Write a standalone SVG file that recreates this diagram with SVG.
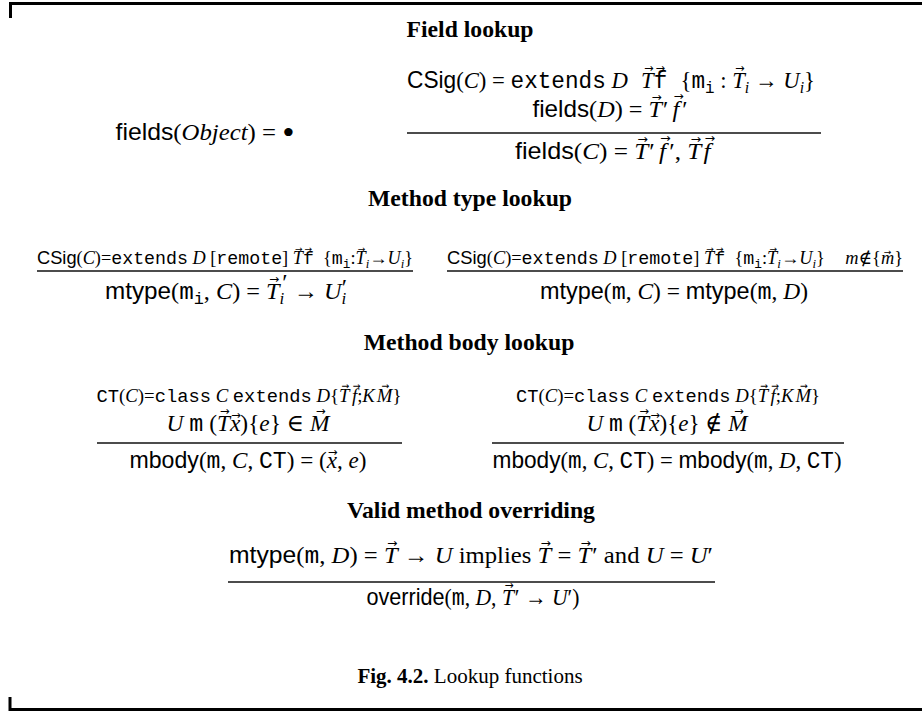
<svg xmlns="http://www.w3.org/2000/svg" width="922" height="713" viewBox="0 0 922 713">
<style>
.h{font-family:"Liberation Serif",serif;font-weight:bold;font-size:23.7px;fill:#000}
.m{font-family:"Liberation Serif","DejaVu Serif",serif;font-size:24px;fill:#000}
.p{font-size:18px}
.q{font-size:19px}
.sf{font-family:"Liberation Sans","DejaVu Sans",sans-serif}
.tt{font-family:"Liberation Mono","DejaVu Sans Mono",monospace}
.i{font-style:italic}
.sub{font-size:70%}
.v{font-family:"DejaVu Sans",sans-serif;font-style:normal;font-size:12px}
.vs{font-size:9px}
.vq{font-size:9.5px}
.rule{stroke:#111;stroke-width:1.4;fill:none}
.frame{stroke:#000;stroke-width:3;fill:none}
.cap{font-family:"Liberation Serif",serif;font-size:21px;fill:#000}
</style>
<rect width="922" height="713" fill="#fff"/>
<path class="frame" d="M10.5,18 V3.5 H922"/>
<path class="frame" d="M10,697 V709.5 H922"/>

<g id="field-lookup">
<text class="h" x="470" y="37" text-anchor="middle">Field lookup</text>
<text class="m" x="205" y="140" text-anchor="middle" textLength="179" lengthAdjust="spacingAndGlyphs"><tspan class="sf">fields</tspan>(<tspan class="i">Object</tspan>) = <tspan font-size="34" dy="4">•</tspan></text>
<text class="m" x="611" y="88" text-anchor="middle" textLength="408" lengthAdjust="spacingAndGlyphs"><tspan class="sf">CSig</tspan>(<tspan class="i">C</tspan>) = <tspan class="tt">extends</tspan> <tspan class="i">D</tspan><tspan class="v" dx="17" dy="-16">→</tspan><tspan class="i" dx="-13.06" dy="16">T</tspan><tspan class="v" dx="2" dy="-16">→</tspan><tspan class="tt" dx="-12.06" dy="16">f</tspan><tspan dx="14">{</tspan><tspan class="tt">m</tspan><tspan class="tt sub" dy="5">i</tspan><tspan dy="-5"> : </tspan><tspan class="v" dx="3" dy="-16">→</tspan><tspan class="i" dx="-13.06" dy="16">T</tspan><tspan class="i sub" dy="5">i</tspan><tspan dy="-5"> → </tspan><tspan class="i">U</tspan><tspan class="i sub" dy="5">i</tspan><tspan dy="-5">}</tspan></text>
<text class="m" x="610" y="117" text-anchor="middle" textLength="155" lengthAdjust="spacingAndGlyphs"><tspan class="sf">fields</tspan>(<tspan class="i">D</tspan>) = <tspan class="v" dx="3" dy="-16">→</tspan><tspan class="i" dx="-13.06" dy="16">T</tspan><tspan dx="1">′</tspan><tspan class="v" dx="5" dy="-17">→</tspan><tspan class="i" dx="-11.06" dy="17">f</tspan><tspan dx="3">′</tspan></text>
<line class="rule" x1="407" y1="133" x2="821" y2="133"/>
<text class="m" x="615" y="159" text-anchor="middle" textLength="200" lengthAdjust="spacingAndGlyphs"><tspan class="sf">fields</tspan>(<tspan class="i">C</tspan>) = <tspan class="v" dx="3" dy="-16">→</tspan><tspan class="i" dx="-13.06" dy="16">T</tspan><tspan dx="1">′</tspan><tspan class="v" dx="5" dy="-17">→</tspan><tspan class="i" dx="-11.06" dy="17">f</tspan><tspan dx="3">′, </tspan><tspan class="v" dx="3" dy="-16">→</tspan><tspan class="i" dx="-13.06" dy="16">T</tspan><tspan class="v" dx="3" dy="-17">→</tspan><tspan class="i" dx="-11.06" dy="17">f</tspan><tspan dx="4"> </tspan></text>
</g>

<g id="method-type-lookup">
<text class="h" x="470" y="206" text-anchor="middle">Method type lookup</text>
<text class="m p" x="225" y="264" text-anchor="middle" textLength="376" lengthAdjust="spacingAndGlyphs"><tspan class="sf">CSig</tspan>(<tspan class="i">C</tspan>)=<tspan class="tt">extends</tspan> <tspan class="i">D</tspan> [<tspan class="tt">remote</tspan>] <tspan class="v vs" dx="2.3" dy="-12">→</tspan><tspan class="i" dx="-9.84" dy="12">T</tspan><tspan class="v vs" dx="1.6" dy="-12">→</tspan><tspan class="tt" dx="-9.14" dy="12">f</tspan><tspan dx="9">{</tspan><tspan class="tt">m</tspan><tspan class="tt sub" dy="4">i</tspan><tspan dy="-4">:</tspan><tspan class="v vs" dx="2.3" dy="-12">→</tspan><tspan class="i" dx="-9.84" dy="12">T</tspan><tspan class="i sub" dy="4">i</tspan><tspan dy="-4">→</tspan><tspan class="i">U</tspan><tspan class="i sub" dy="4">i</tspan><tspan dy="-4">}</tspan></text>
<line class="rule" x1="37" y1="271" x2="413" y2="271"/>
<text class="m" x="226" y="299" text-anchor="middle" textLength="242" lengthAdjust="spacingAndGlyphs"><tspan class="sf">mtype</tspan>(<tspan class="tt">m</tspan><tspan class="tt sub" dy="5">i</tspan><tspan dy="-5">, </tspan><tspan class="i">C</tspan>) = <tspan class="v" dx="3" dy="-16">→</tspan><tspan class="i" dx="-13.06" dy="16">T</tspan><tspan class="i sub" dy="5">i</tspan><tspan dy="-14" dx="-2">′</tspan><tspan dy="9"> → </tspan><tspan class="i">U</tspan><tspan class="i sub" dy="5">i</tspan><tspan dy="-9" dx="-4.5">′</tspan></text>

<text class="m p" x="675" y="264" text-anchor="middle" textLength="456" lengthAdjust="spacingAndGlyphs"><tspan class="sf">CSig</tspan>(<tspan class="i">C</tspan>)=<tspan class="tt">extends</tspan> <tspan class="i">D</tspan> [<tspan class="tt">remote</tspan>] <tspan class="v vs" dx="2.3" dy="-12">→</tspan><tspan class="i" dx="-9.84" dy="12">T</tspan><tspan class="v vs" dx="1.6" dy="-12">→</tspan><tspan class="tt" dx="-9.14" dy="12">f</tspan><tspan dx="9">{</tspan><tspan class="tt">m</tspan><tspan class="tt sub" dy="4">i</tspan><tspan dy="-4">:</tspan><tspan class="v vs" dx="2.3" dy="-12">→</tspan><tspan class="i" dx="-9.84" dy="12">T</tspan><tspan class="i sub" dy="4">i</tspan><tspan dy="-4">→</tspan><tspan class="i">U</tspan><tspan class="i sub" dy="4">i</tspan><tspan dy="-4">}</tspan><tspan class="i" dx="20">m</tspan>∉{<tspan class="v vs" dx="2.7" dy="-9">→</tspan><tspan class="i" dx="-10.24" dy="9">m</tspan>}</text>
<line class="rule" x1="447" y1="271" x2="903" y2="271"/>
<text class="m" x="674" y="299" text-anchor="middle" textLength="268" lengthAdjust="spacingAndGlyphs"><tspan class="sf">mtype</tspan>(<tspan class="tt">m</tspan>, <tspan class="i">C</tspan>) = <tspan class="sf">mtype</tspan>(<tspan class="tt">m</tspan>, <tspan class="i">D</tspan>)</text>
</g>

<g id="method-body-lookup">
<text class="h" x="469" y="350" text-anchor="middle">Method body lookup</text>
<text class="m q" x="249" y="402" text-anchor="middle" textLength="305" lengthAdjust="spacingAndGlyphs"><tspan class="tt">CT</tspan>(<tspan class="i">C</tspan>)=<tspan class="tt">class</tspan> <tspan class="i">C</tspan> <tspan class="tt">extends</tspan> <tspan class="i">D</tspan>{<tspan class="v vq" dx="2.4" dy="-12.6">→</tspan><tspan class="i" dx="-10.36" dy="12.6">T</tspan><tspan class="v vq" dx="3" dy="-13.5">→</tspan><tspan class="i" dx="-8.46" dy="13.5">f</tspan>;<tspan class="i">K</tspan><tspan class="v vq" dx="6.5" dy="-12.6">→</tspan><tspan class="i" dx="-12.46" dy="12.6">M</tspan>}</text>
<text class="m" x="248" y="431" text-anchor="middle" textLength="163" lengthAdjust="spacingAndGlyphs"><tspan class="i">U</tspan> <tspan class="tt">m</tspan> (<tspan class="v" dx="3" dy="-16">→</tspan><tspan class="i" dx="-13.06" dy="16">T</tspan><tspan class="v" dx="1" dy="-12">→</tspan><tspan class="i" dx="-11.06" dy="12">x</tspan>){<tspan class="i">e</tspan>} ∈ <tspan class="v" dx="6" dy="-16">→</tspan><tspan class="i" dx="-16.06" dy="16">M</tspan></text>
<line class="rule" x1="97" y1="443" x2="402" y2="443"/>
<text class="m" x="248" y="468" text-anchor="middle" textLength="237" lengthAdjust="spacingAndGlyphs"><tspan class="sf">mbody</tspan>(<tspan class="tt">m</tspan>, <tspan class="i">C</tspan>, <tspan class="tt">CT</tspan>) = (<tspan class="v" dx="1" dy="-12">→</tspan><tspan class="i" dx="-11.06" dy="12">x</tspan>, <tspan class="i">e</tspan>)</text>

<text class="m q" x="668" y="402" text-anchor="middle" textLength="304" lengthAdjust="spacingAndGlyphs"><tspan class="tt">CT</tspan>(<tspan class="i">C</tspan>)=<tspan class="tt">class</tspan> <tspan class="i">C</tspan> <tspan class="tt">extends</tspan> <tspan class="i">D</tspan>{<tspan class="v vq" dx="2.4" dy="-12.6">→</tspan><tspan class="i" dx="-10.36" dy="12.6">T</tspan><tspan class="v vq" dx="3" dy="-13.5">→</tspan><tspan class="i" dx="-8.46" dy="13.5">f</tspan>;<tspan class="i">K</tspan><tspan class="v vq" dx="6.5" dy="-12.6">→</tspan><tspan class="i" dx="-12.46" dy="12.6">M</tspan>}</text>
<text class="m" x="667" y="431" text-anchor="middle" textLength="161" lengthAdjust="spacingAndGlyphs"><tspan class="i">U</tspan> <tspan class="tt">m</tspan> (<tspan class="v" dx="3" dy="-16">→</tspan><tspan class="i" dx="-13.06" dy="16">T</tspan><tspan class="v" dx="1" dy="-12">→</tspan><tspan class="i" dx="-11.06" dy="12">x</tspan>){<tspan class="i">e</tspan>} ∉ <tspan class="v" dx="6" dy="-16">→</tspan><tspan class="i" dx="-16.06" dy="16">M</tspan></text>
<line class="rule" x1="492" y1="443" x2="844" y2="443"/>
<text class="m" x="667" y="468" text-anchor="middle" textLength="349" lengthAdjust="spacingAndGlyphs"><tspan class="sf">mbody</tspan>(<tspan class="tt">m</tspan>, <tspan class="i">C</tspan>, <tspan class="tt">CT</tspan>) = <tspan class="sf">mbody</tspan>(<tspan class="tt">m</tspan>, <tspan class="i">D</tspan>, <tspan class="tt">CT</tspan>)</text>
</g>

<g id="valid-method-overriding">
<text class="h" x="471" y="518" text-anchor="middle">Valid method overriding</text>
<text class="m" x="471" y="563" text-anchor="middle" textLength="484" lengthAdjust="spacingAndGlyphs"><tspan class="sf">mtype</tspan>(<tspan class="tt">m</tspan>, <tspan class="i">D</tspan>) = <tspan class="v" dx="3" dy="-16">→</tspan><tspan class="i" dx="-13.06" dy="16">T</tspan> → <tspan class="i">U</tspan> implies <tspan class="v" dx="3" dy="-16">→</tspan><tspan class="i" dx="-13.06" dy="16">T</tspan> = <tspan class="v" dx="3" dy="-16">→</tspan><tspan class="i" dx="-13.06" dy="16">T</tspan><tspan dx="1">′</tspan> and <tspan class="i">U</tspan> = <tspan class="i">U</tspan>′</text>
<line class="rule" x1="228" y1="582" x2="715" y2="582"/>
<text class="m" x="473" y="605" text-anchor="middle" textLength="213" lengthAdjust="spacingAndGlyphs"><tspan class="sf">override</tspan>(<tspan class="tt">m</tspan>, <tspan class="i">D</tspan>, <tspan class="v" dx="3" dy="-16">→</tspan><tspan class="i" dx="-13.06" dy="16">T</tspan><tspan dx="1">′</tspan> → <tspan class="i">U</tspan>′)</text>
</g>

<text class="cap" x="470" y="683" text-anchor="middle"><tspan font-weight="bold">Fig. 4.2.</tspan> Lookup functions</text>
</svg>
